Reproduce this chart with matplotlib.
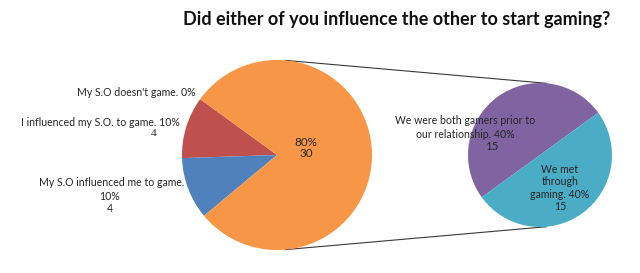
import numpy as np
import matplotlib
matplotlib.use("Agg")
import matplotlib.pyplot as plt

# ---- data ----
title = "Did either of you influence the other to start gaming?"
main_labels = ["My S.O doesn't game.", "I influenced my S.O. to game.",
               "My S.O influenced me to game.", "Other"]
main_values = [0, 4, 4, 30]
main_pct = ["0%", "10%", "10%", "80%"]
sub_labels = ["We were both gamers prior to\nour relationship.", "We met\nthrough\ngaming."]
sub_values = [15, 15]
sub_pct = ["40%", "40%"]

main_colors = ["#F79646", "#C0504D", "#4F81BD", "#F79646"]
sub_colors = ["#8064A2", "#4BACC6"]
txt = "#262626"
FONT = "Lato"

W, H = 640, 273
fig = plt.figure(figsize=(W / 100, H / 100), dpi=100)
ax = fig.add_axes([0, 0, 1, 1])

def P(x, y):
    return x, H - y

c1 = np.array(P(277, 155), dtype=float); r1 = 95.0
c2 = np.array(P(540, 155), dtype=float); r2 = 72.0

ax.pie(main_values, colors=main_colors, startangle=144, counterclock=True,
       center=tuple(c1), radius=r1, wedgeprops=dict(linewidth=0))
ax.pie(sub_values, colors=sub_colors, startangle=36, counterclock=True,
       center=tuple(c2), radius=r2, wedgeprops=dict(linewidth=0))

# connector lines (external tangents of the two circles)
d = np.linalg.norm(c2 - c1)
alpha = np.arcsin((r1 - r2) / d)
for sgn in (1, -1):
    th = sgn * (np.pi / 2 - alpha)
    n = np.array([np.cos(th), np.sin(th)])
    p1 = c1 + r1 * n
    p2 = c2 + r2 * n
    ax.plot([p1[0], p2[0]], [p1[1], p2[1]], color="#3a3a3a", lw=0.8, zorder=0)

ax.set_xlim(0, W)
ax.set_ylim(0, H)
ax.set_aspect("equal")
ax.axis("off")

fs = 7.6
# main labels
ax.text(*P(196, 93), f"{main_labels[0]} {main_pct[0]}", ha="right", va="center",
        fontsize=fs, color=txt, family=FONT)
ax.text(*P(180, 123), f"{main_labels[1]} {main_pct[1]}", ha="right", va="center",
        fontsize=fs, color=txt, family=FONT)
ax.text(*P(154, 134), f"{main_values[1]}", ha="center", va="center",
        fontsize=fs + 0.5, color=txt, family="Liberation Serif")
ax.text(*P(112, 183), main_labels[2], ha="center", va="center",
        fontsize=fs, color=txt, family=FONT)
ax.text(*P(110, 196), main_pct[2], ha="center", va="center",
        fontsize=fs, color=txt, family=FONT)
ax.text(*P(110, 208), f"{main_values[2]}", ha="center", va="center",
        fontsize=fs, color=txt, family=FONT)
ax.text(*P(306, 148), f"{main_pct[3]}\n{sum(sub_values)}", ha="center", va="center",
        fontsize=fs + 0.8, color=txt, family=FONT, linespacing=1.05)

# sub labels
l1 = sub_labels[0].split("\n")
ax.text(*P(465, 121), l1[0], ha="center", va="center", fontsize=fs, color=txt, family=FONT)
ax.text(*P(465, 134), f"{l1[1]} {sub_pct[0]}", ha="center", va="center",
        fontsize=fs, color=txt, family=FONT)
ax.text(*P(492, 147), f"{sub_values[0]}", ha="center", va="center",
        fontsize=fs + 0.8, color=txt, family=FONT)
ax.text(*P(560, 188), f"{sub_labels[1]} {sub_pct[1]}\n{sub_values[1]}", ha="center",
        va="center", fontsize=fs, color=txt, family=FONT, linespacing=1.15)

ax.text(*P(397, 20), title, ha="center", va="center", fontsize=13,
        fontweight="bold", color="#111111", family=FONT)

fig.savefig("out.png", dpi=100)
